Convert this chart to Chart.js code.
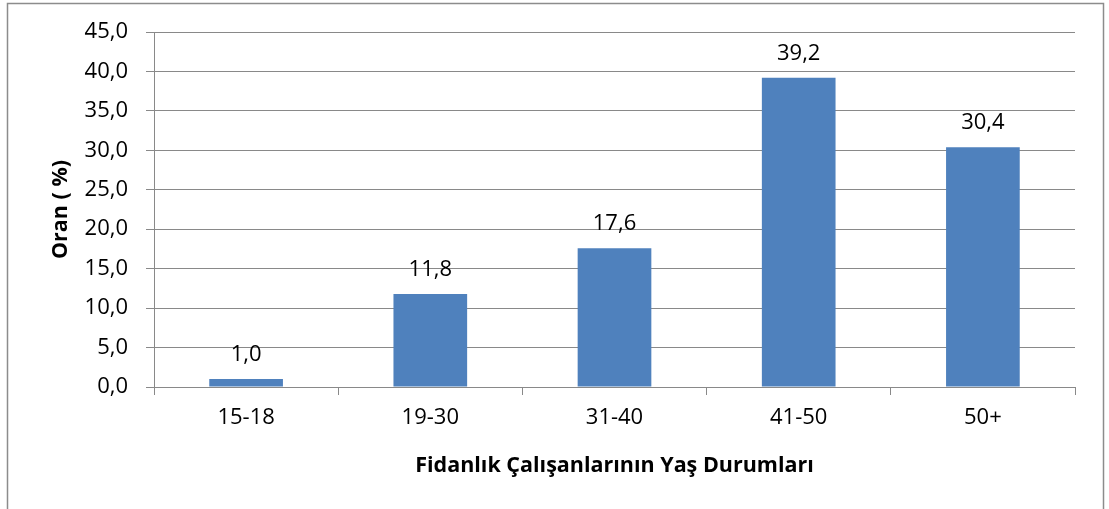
<!DOCTYPE html>
<html>
<head>
<meta charset="utf-8">
<script src="https://cdn.jsdelivr.net/npm/chart.js@4/dist/chart.umd.min.js"></script>
<style>
  html, body { margin: 0; padding: 0; background: #fff; }
  #wrap { width: 1109px; height: 509px; position: relative; }
</style>
</head>
<body>
<div id="wrap"><canvas id="chart" width="1109" height="509"></canvas></div>
<script>
// chart data
const ageGroups = ['15-18', '19-30', '31-40', '41-50', '50+'];
const ratios = [1.0, 11.8, 17.6, 39.2, 30.4];
const yTicks = [0, 5, 10, 15, 20, 25, 30, 35, 40, 45];

const FONT = '"Open Sans", Lato, sans-serif';
const GRID = '#898989';

const fmt = v => v.toFixed(1).replace('.', ',');

// draws the value above each bar
const barLabels = {
  id: 'barLabels',
  afterDatasetsDraw(chart) {
    const ctx = chart.ctx;
    const meta = chart.getDatasetMeta(0);
    ctx.save();
    ctx.font = '22px ' + FONT;
    ctx.fillStyle = '#000';
    ctx.textAlign = 'center';
    ctx.textBaseline = 'alphabetic';
    meta.data.forEach((bar, i) => {
      ctx.fillText(fmt(ratios[i]), bar.x, bar.y - 18);
    });
    ctx.restore();
  }
};

// outer frame of the chart
const frame = {
  id: 'frame',
  beforeDraw(chart) {
    const ctx = chart.ctx;
    ctx.save();
    ctx.strokeStyle = '#8c8c8c';
    ctx.lineWidth = 1.5;
    ctx.strokeRect(7.5, 3.5, 1096, 600);
    ctx.restore();
  }
};

new Chart(document.getElementById('chart'), {
  type: 'bar',
  data: {
    labels: ageGroups,
    datasets: [{
      data: ratios,
      backgroundColor: '#4f81bd',
      borderWidth: 0,
      barPercentage: 0.4,
      categoryPercentage: 1
    }]
  },
  options: {
    responsive: false,
    animation: false,
    layout: { padding: { left: 48, top: 32, right: 34, bottom: 20 } },
    plugins: {
      legend: { display: false },
      tooltip: { enabled: false }
    },
    scales: {
      x: {
        afterFit: s => { s.height = 102; },
        grid: {
          drawOnChartArea: false,
          drawTicks: true,
          tickLength: 8,
          color: GRID
        },
        border: { color: GRID, width: 1 },
        ticks: { color: '#000', padding: 10, font: { family: FONT, size: 22 } },
        title: {
          display: true,
          text: 'Fidanlık Çalışanlarının Yaş Durumları',
          color: '#000',
          padding: { top: 0, bottom: 10 },
          font: { family: FONT, size: 21.5, weight: 'bold' }
        }
      },
      y: {
        min: 0,
        max: 45,
        afterFit: s => { s.width = 106; },
        afterBuildTicks: s => { s.ticks = yTicks.map(v => ({ value: v })); },
        grid: { color: GRID, tickLength: 8 },
        border: { color: GRID, width: 1 },
        ticks: {
          color: '#000',
          padding: 18,
          font: { family: FONT, size: 22 },
          callback: v => fmt(v)
        },
        title: {
          display: true,
          text: 'Oran ( %)',
          color: '#000',
          padding: { top: 0, bottom: 0 },
          font: { family: FONT, size: 21.5, weight: 'bold' }
        }
      }
    }
  },
  plugins: [barLabels, frame]
});
</script>
</body>
</html>
